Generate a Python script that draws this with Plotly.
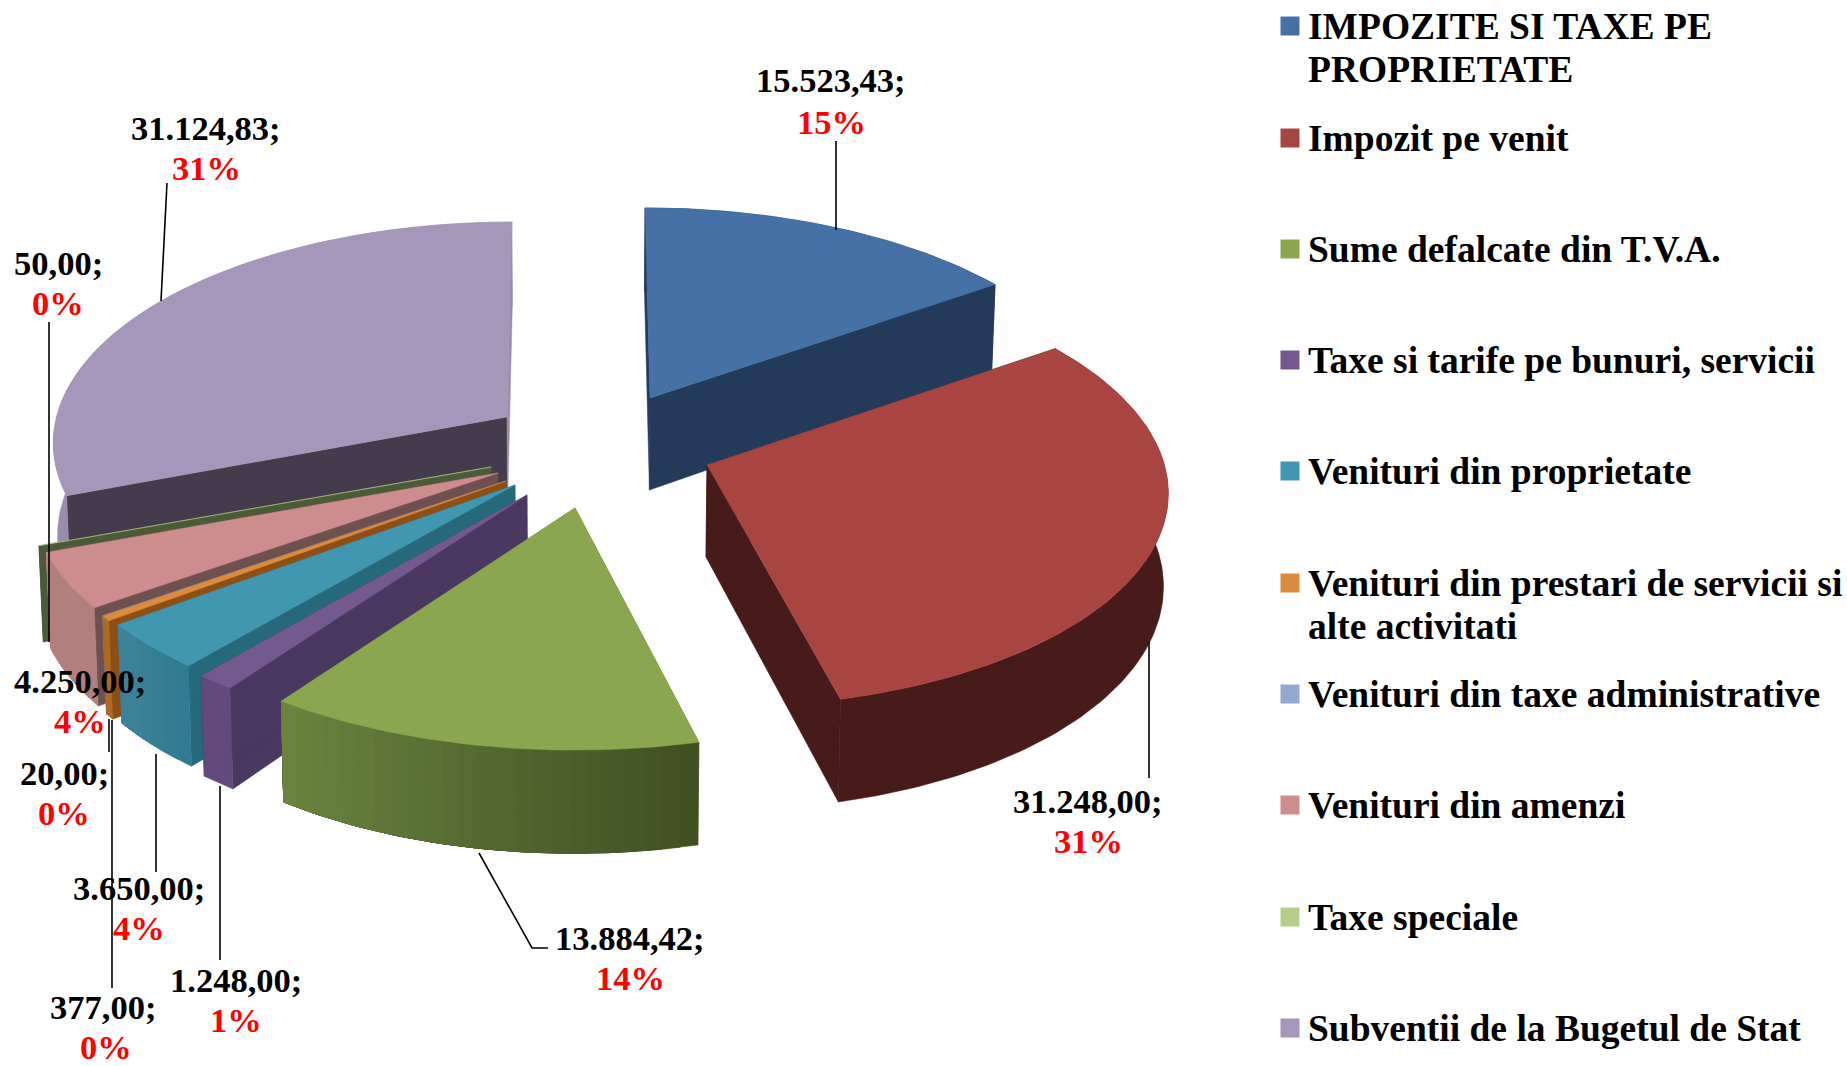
import math
import plotly.graph_objects as go

# ---- data ----
categories = ["IMPOZITE SI TAXE PE<br>PROPRIETATE", "Impozit pe venit", "Sume defalcate din T.V.A.",
              "Taxe si tarife pe bunuri, servicii", "Venituri din proprietate",
              "Venituri din prestari de servicii si<br>alte activitati", "Venituri din taxe administrative",
              "Venituri din amenzi", "Taxe speciale", "Subventii de la Bugetul de Stat"]
values = [15523.43, 31248.00, 13884.42, 1248.00, 3650.00, 377.00, 20.00, 4250.00, 50.00, 31124.83]
value_labels = ["15.523,43;", "31.248,00;", "13.884,42;", "1.248,00;", "3.650,00;",
                "377,00;", "20,00;", "4.250,00;", "50,00;", "31.124,83;"]
percent_labels = ["15%", "31%", "14%", "1%", "4%", "0%", "0%", "4%", "0%", "31%"]

# ---- style / layout ----
top_colors = ["#4571A6", "#A94541", "#8AA64E", "#74598F", "#4196B0", "#DB8B3D", "#93A9CF", "#CC8D8C", "#B7CD8C", "#A597B9"]
wall_colors = ["#243A5A", "#471B1A", "#5A7033", "#4A3860", "#26697A", "#8E4F17", "#5B6F8C", "#6F5050", "#4B5B37", "#443C4C"]
outer_from = ["#243A5A", "#471B1A", "#3F4F22", "#63497C", "#2F7A90", "#B06A20", "#7D8FAD", "#B07F7E", "#4B5B37", "#9A8CAD"]
outer_to = ["#243A5A", "#471B1A", "#6B8540", "#63497C", "#3E8499", "#B06A20", "#7D8FAD", "#B27F7D", "#4B5B37", "#9A8CAD"]
legend_square = top_colors

FONT = "Liberation Serif"
FS_LEGEND = 37.5
FS_LABEL = 34.5
W, H = 1847, 1066
R, RY, K, DEPTH, VX, LEAN = 462, 216, 0.108, 92, 577, 0.7
apex = [(650, 398), (707, 465), (575, 508), (527, 495), (515, 485), (506, 481), (506, 481), (498, 473), (491, 467), (507, 417)]
radius_x = [0.975, 0.99, 1, 1, 1, 1, 1, 1, 1, 0.975]
radius_y = [0.975, 1, 1, 1, 1, 1, 1, 1, 1, 1]
draw_order = [0, 9, 8, 7, 6, 5, 4, 3, 2, 1]

value_y = [80, 801, 938, 980, 888, 1007, 773, 681, 263, 128]
percent_y = [122, 841, 978, 1020, 928, 1047, 813, 721, 303, 168]
label_x = [831, 1088, 630, 236, 139, 103, 64, 80, 58, 206]
percent_x = [831, 1088, 630, 236, 139, 106, 64, 80, 58, 206]
leaders = [[(836, 141), (836, 230)], [(1149, 778), (1149, 642)], [(548, 948), (532, 948), (479, 853)],
           [(220, 960), (220, 786)], [(156, 872), (156, 754)], [(112, 988), (112, 720)],
           [(109, 752), (109, 719)], [], [(49, 322), (49, 642)], [(167, 183), (161, 301)]]
legend_y = [26, 138, 249, 360, 471, 583, 694, 805, 917, 1028]
LEG_LINE = 43
LEG_SQ_X, LEG_TX = 1290, 1306


def hex2rgb(h):
    return tuple(int(h[i:i + 2], 16) for i in (1, 3, 5))


def mix(a, b, t):
    ca, cb = hex2rgb(a), hex2rgb(b)
    return "rgb(%d,%d,%d)" % tuple(round(ca[i] + (cb[i] - ca[i]) * t) for i in range(3))


def project(i, deg, depth=0.0):
    """Map a slice angle (clockwise from the top) to the drawing plane, with perspective."""
    xa, ya = apex[i]
    th = math.radians(deg)
    f = 1 / (1 + K * math.cos(th))
    x = xa + R * radius_x[i] * math.sin(th) * f + LEAN * (xa - VX) * (f - 1)
    y = ya - RY * radius_y[i] * math.cos(th) * f
    y += depth * DEPTH * f
    x += depth * (VX - x) * 0.008
    return x, y


def apex_pt(i, depth=0.0):
    xa, ya = apex[i]
    return xa + depth * (VX - xa) * 0.008, ya + depth * DEPTH


fig = go.Figure()


def poly(pts, color):
    xs = [p[0] for p in pts] + [pts[0][0]]
    ys = [p[1] for p in pts] + [pts[0][1]]
    fig.add_trace(go.Scatter(x=xs, y=ys, mode="lines", fill="toself", fillcolor=color,
                             line=dict(color=color, width=0.5), hoverinfo="skip", showlegend=False))


def rim(i, u0, u1, color):
    n = max(1, int((u1 - u0) / 1.0))
    angs = [u0 + (u1 - u0) * s / n for s in range(n + 1)]
    poly([project(i, a) for a in angs] + [project(i, a, 1) for a in reversed(angs)], color)


# angles come only from the values
total = sum(values)
starts, cum = [], 0.0
for v in values:
    starts.append(cum / total * 360)
    cum += v
ends = starts[1:] + [360.0]

for i in draw_order:
    a0, a1 = starts[i], ends[i]
    # radial walls
    poly([apex_pt(i), project(i, a0), project(i, a0, 1), apex_pt(i, 1)], wall_colors[i])
    end_wall = outer_to[i] if i == 9 else wall_colors[i]
    poly([apex_pt(i), project(i, a1), project(i, a1, 1), apex_pt(i, 1)], end_wall)
    # rim: each band runs to the far end, and the next one paints over it, so no seams show
    if outer_from[i] == outer_to[i]:
        rim(i, a0, a1, outer_from[i])
    else:
        n = max(1, int((a1 - a0) / 2.0))
        for s in range(n):
            rim(i, a0 + (a1 - a0) * s / n, a1, mix(outer_from[i], outer_to[i], (s + 0.5) / n))
    # top face
    n = max(2, int((a1 - a0) / 1.0))
    arc = [project(i, a0 + (a1 - a0) * s / n) for s in range(n + 1)]
    poly([apex_pt(i)] + arc, top_colors[i])

# leader lines
for seg in leaders:
    if seg:
        fig.add_trace(go.Scatter(x=[p[0] for p in seg], y=[p[1] for p in seg], mode="lines",
                                 line=dict(color="black", width=1.6), hoverinfo="skip", showlegend=False))

# legend keys
fig.add_trace(go.Scatter(x=[LEG_SQ_X] * len(categories), y=legend_y, mode="markers",
                         marker=dict(symbol="square", size=19, color=legend_square, line=dict(width=0)),
                         hoverinfo="skip", showlegend=False))

ann = []
for name, y in zip(categories, legend_y):
    for k, line in enumerate(name.split("<br>")):
        ann.append(dict(x=LEG_TX, y=y + k * LEG_LINE, text="<b>%s</b>" % line, xanchor="left", yanchor="middle",
                        align="left", showarrow=False, font=dict(family=FONT, size=FS_LEGEND, color="black")))
for vl, pl, x, px, vy, py in zip(value_labels, percent_labels, label_x, percent_x, value_y, percent_y):
    ann.append(dict(x=x, y=vy, text="<b>%s</b>" % vl, xanchor="center", yanchor="middle", showarrow=False,
                    font=dict(family=FONT, size=FS_LABEL, color="black")))
    ann.append(dict(x=px, y=py, text="<b>%s</b>" % pl, xanchor="center", yanchor="middle", showarrow=False,
                    font=dict(family=FONT, size=FS_LABEL, color="#FF0000")))

fig.update_layout(width=W, height=H, margin=dict(l=0, r=0, t=0, b=0), paper_bgcolor="white", plot_bgcolor="white",
                  showlegend=False, annotations=ann,
                  xaxis=dict(range=[0, W], visible=False, fixedrange=True),
                  yaxis=dict(range=[H, 0], visible=False, fixedrange=True))
fig.write_html("out.html", config=dict(displayModeBar=False),
               post_script="document.body.style.margin='0';document.documentElement.style.overflow='hidden';")
